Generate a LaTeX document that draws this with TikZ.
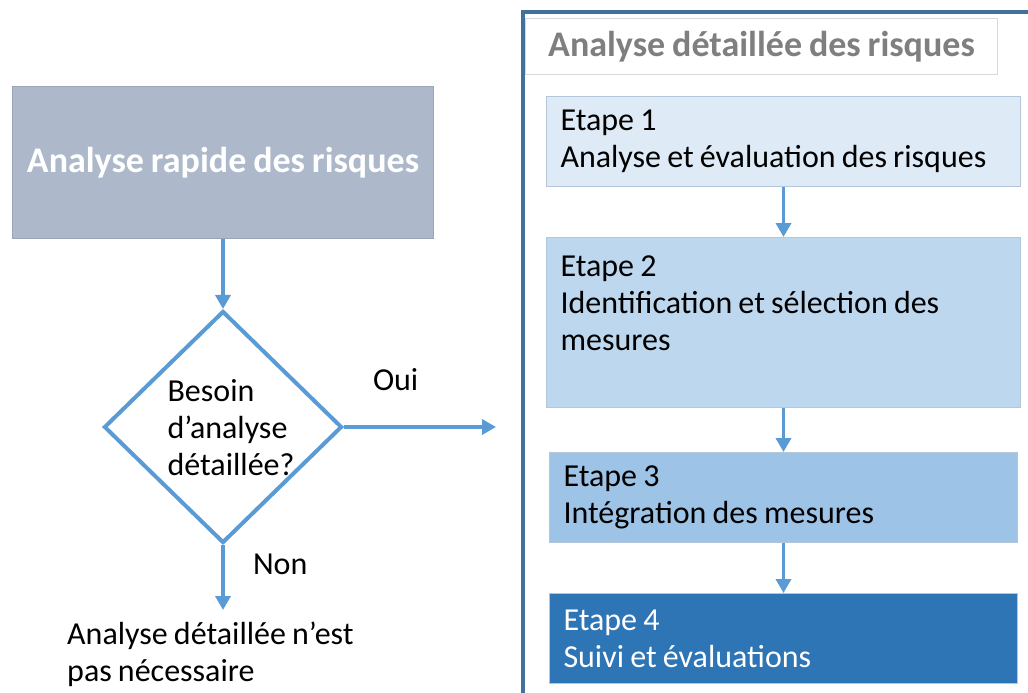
\documentclass[tikz,border=0pt]{standalone}
\usepackage{fontspec}
\setmainfont{Carlito}[WordSpace=0.85]
\usepackage{tikz}
\usetikzlibrary{arrows.meta,shapes.geometric,positioning}

\definecolor{flowblue}{HTML}{5B9BD5}
\definecolor{framecol}{HTML}{41719C}
\definecolor{rapidfill}{HTML}{ADB9CA}
\definecolor{rapidline}{HTML}{9AA6B6}
\definecolor{stepline}{HTML}{B4C6DA}
\definecolor{titleline}{HTML}{D9D9D9}
\definecolor{titlegrey}{HTML}{7F7F7F}
\definecolor{etapeA}{HTML}{DEEBF7}
\definecolor{etapeB}{HTML}{BDD7EE}
\definecolor{etapeC}{HTML}{9DC3E6}
\definecolor{etapeD}{HTML}{2E75B6}

\begin{document}
\begin{tikzpicture}[
    x=1pt, y=-1pt,
    % 定義樣式
    flow/.style={draw=flowblue, line width=4pt, -{Triangle[length=14pt,width=15pt]}},
    stepflow/.style={flow, line width=3.5pt},
    bigtext/.style={font=\fontsize{32}{37}\selectfont},
    headtext/.style={font=\fontsize{36}{42}\selectfont\bfseries},
    rapid box/.style={rectangle, fill=rapidfill, draw=rapidline, line width=1pt,
        minimum width=421pt, minimum height=152pt, inner sep=0pt, headtext, text=white},
    title box/.style={rectangle, fill=white, draw=titleline, line width=1pt,
        minimum width=472pt, minimum height=56pt, inner sep=0pt, headtext, text=titlegrey},
    stepbox/.style={rectangle, draw=stepline, line width=1pt, bigtext, align=left,
        inner ysep=0pt, inner xsep=14pt, minimum height=90pt, text width=446pt,
        execute at begin node={\spaceskip=0pt\xspaceskip=0pt\relax}},
    narrow/.style={text width=440pt},
    decision/.style={diamond, draw=flowblue, fill=white, line width=4pt,
        inner sep=0pt, minimum width=238pt, minimum height=232pt},
    answer/.style={bigtext, inner sep=0pt}
]

    % --- 0. 背景與邊框 ---
    \path[fill=white, use as bounding box] (0,0) rectangle (1028,693);
    \draw[framecol, line width=4pt] (522.5,693) -- (522.5,12) -- (1028,12);

    % --- 1. 左側:快速分析 ---
    \node[rapid box, anchor=north west] (rapid) at (12,86) {Analyse rapide des risques};
    \node[decision, below=70pt of rapid,
        label={[bigtext, align=left, inner sep=0pt, xshift=8pt, yshift=-1pt]center:Besoin\\d’analyse\\détaillée?}]
        (besoin) {};
    \coordinate[right=152pt of besoin.east] (ouiEnd);
    \coordinate[below=65pt of besoin.south] (nonEnd);
    \node[bigtext, align=left, inner sep=0pt, anchor=north west] (pasnec) at (67,622)
        {Analyse détaillée n’est\\pas nécessaire};

    % --- 2. 右側:詳細分析 ---
    \node[title box, anchor=north west] (detail) at (525,18) {Analyse détaillée des risques};
    \node[stepbox, fill=etapeA, anchor=north west] (E-1) at (546,96)
        {Etape 1\\Analyse et évaluation des risques};
    \node[stepbox, fill=etapeB, minimum height=170pt, below=50pt of E-1] (E-2)
        {Etape 2\\Identification et sélection des\\mesures\\[2pt]~};
    \node[stepbox, narrow, fill=etapeC, below=44pt of E-2] (E-3)
        {Etape 3\\Intégration des mesures};
    \node[stepbox, narrow, fill=etapeD, text=white, below=50pt of E-3] (E-4)
        {Etape 4\\Suivi et évaluations};

    % --- 3. 連接線 ---
    \draw[flow] (rapid) -- (besoin);
    \draw[flow] (besoin.east) -- node[answer, pos=0.34, above=34pt] {Oui} (ouiEnd);
    \draw[flow] (besoin.south) -- node[answer, pos=0.3, right=28pt] {Non} (nonEnd);
    \foreach \source/\dest in {1/2,2/3,3/4}
        \draw[stepflow] (E-\source) -- (E-\dest);

\end{tikzpicture}
\end{document}
